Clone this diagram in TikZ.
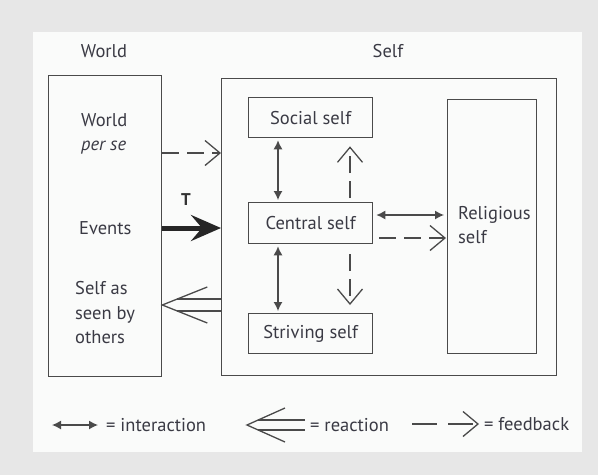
\documentclass[tikz,border=0pt]{standalone}
\usepackage{fontspec}
\setmainfont{PT Sans}
\usetikzlibrary{arrows.meta,calc}
\definecolor{bgout}{HTML}{E7E7E7}
\definecolor{bgin}{HTML}{FAFBFA}
\definecolor{ink}{HTML}{4A4A4A}
\definecolor{txt}{HTML}{3A3A44}
\begin{document}
\begin{tikzpicture}[x=1pt,y=-1pt,
  box/.style={draw=ink, line width=1.3pt, inner sep=0pt, anchor=north west},
  lbl/.style={text=txt, font=\fontsize{18.5}{24.5}\selectfont, inner sep=0pt},
  inter/.style={draw=ink, line width=1.3pt, {Latex[length=9pt,width=9pt]}-{Latex[length=9pt,width=9pt]}},
  feed/.style={draw=ink, line width=1.3pt, dash pattern=on 17pt off 8pt, -{Straight Barb[length=15pt,width=25pt,line width=1.3pt]}},
  strong/.style={draw=black!85, line width=5pt, -{Stealth[length=30pt,width=26pt,inset=11pt]}},
  react/.style={draw=ink, line width=1.3pt},
]
\useasboundingbox (0,0) rectangle (598,475);
\fill[bgout] (0,0) rectangle (598,475);
\fill[bgin] (33,32) rectangle (582,452);

% headers
\node[lbl] (hworld) at (104,51) {World};
\node[lbl] (hself) at (388,51) {Self};

% boxes
\node[box, minimum width=113pt, minimum height=301pt] (world) at (48,75) {};
\node[box, minimum width=335pt, minimum height=297pt] (self) at (221,78) {};
\node[box, minimum width=124pt, minimum height=40pt] (social) at (248,97) {};
\node[box, minimum width=124pt, minimum height=41pt] (central) at (248,202) {};
\node[box, minimum width=124pt, minimum height=40pt] (striving) at (248,313) {};
\node[box, minimum width=89pt, minimum height=254pt] (religious) at (447,99) {};

\node[lbl] (tsocial) at (social.center) {Social self};
\node[lbl] (tcentral) at (central.center) {Central self};
\node[lbl] (tstriving) at (striving.center) {Striving self};
\node[lbl, align=left, anchor=west] (trel) at (458,225) {Religious\\self};

\node[lbl, align=left, anchor=west] (tper) at (81,134) {World\\\textit{per se}};
\node[lbl, anchor=west] (tevents) at (79,228) {Events};
\node[lbl, align=left, anchor=west] (tothers) at (75,313) {Self as\\seen by\\others};

% world -> self
\coordinate (y1) at (0,153);
\coordinate (y2) at (0,228);
\coordinate (y3) at (0,305);
\draw[feed] (world.east |- y1) -- (self.west |- y1);
\draw[strong] (world.east |- y2) -- (self.west |- y2);
\node[lbl, font=\fontsize{17}{18}\selectfont\bfseries, text=black!80] (T) at (186,200) {T};

% reaction
\coordinate (rtip) at (world.east |- y3);
\draw[react] ($(rtip)+(45,-18)$) -- (rtip) -- ($(rtip)+(45,18)$);
\draw[react] ($(rtip)+(15,-6)$) -- (self.west |- 0,299);
\draw[react] ($(rtip)+(15,6)$) -- (self.west |- 0,311);

% internal
\coordinate (ix) at (278,0);
\coordinate (fx) at (350,0);
\coordinate (iy) at (0,215);
\coordinate (fy) at (0,238);
\draw[inter, shorten <=2pt, shorten >=2pt] (social.south -| ix) -- (central.north -| ix);
\draw[inter, shorten <=2pt, shorten >=2pt] (central.south -| ix) -- (striving.north -| ix);
\draw[inter, shorten <=3pt, shorten >=3pt] (central.east |- iy) -- (religious.west |- iy);
\draw[feed, shorten <=4pt, shorten >=8pt] (central.north -| fx) -- (social.south -| fx);
\draw[feed, shorten <=10pt, shorten >=8pt] (central.south -| fx) -- (striving.north -| fx);
\draw[feed, shorten <=6pt, shorten >=1pt] (central.east |- fy) -- (religious.west |- fy);

% legend
\coordinate (la) at (52,425);
\coordinate (lb) at (98,425);
\draw[inter] (la) -- (lb);
\node[lbl, anchor=west] (linter) at (106,425) {= interaction};
\coordinate (ltip) at (247,425);
\draw[react] ($(ltip)+(38,-17)$) -- (ltip) -- ($(ltip)+(38,17)$);
\draw[react] ($(ltip)+(11.2,-5)$) -- (305,420);
\draw[react] ($(ltip)+(11.2,5)$) -- (305,430);
\node[lbl, anchor=west] (lreact) at (310,425) {= reaction};
\coordinate (lfa) at (412,424);
\coordinate (lfb) at (479,424);
\draw[feed, dash pattern=on 25pt off 11pt] (lfa) -- (lfb);
\node[lbl, anchor=west] (lfeed) at (484,424) {= feedback};
\end{tikzpicture}
\end{document}
